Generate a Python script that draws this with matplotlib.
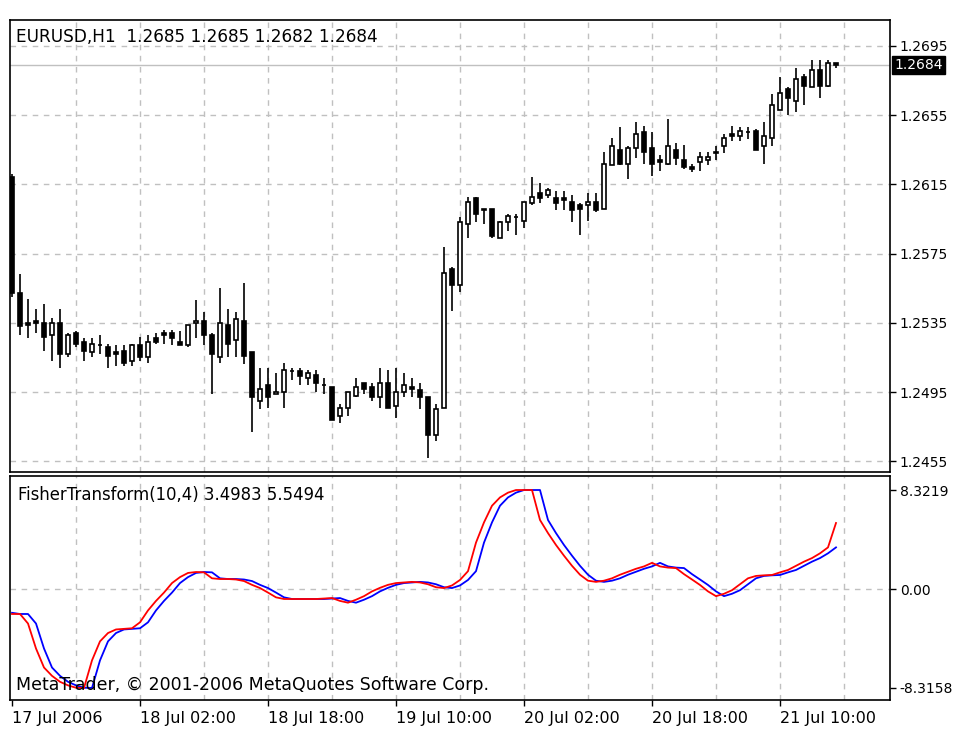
import matplotlib
matplotlib.use("Agg")
import matplotlib.pyplot as plt

# EURUSD H1 bars, 17 Jul 2006 10:00 onwards
opens = [1.2619, 1.2552, 1.2535, 1.2536, 1.2535, 1.2528, 1.2535, 1.2517, 1.2529, 1.2524,
         1.2518, 1.2522, 1.2521, 1.2518, 1.2519, 1.2513, 1.2522, 1.2515, 1.2526, 1.2529,
         1.2529, 1.2524, 1.2522, 1.2535, 1.2536, 1.2528, 1.2515, 1.2534, 1.2525, 1.2536,
         1.2518, 1.2490, 1.2499, 1.2494, 1.2495, 1.2507, 1.2507, 1.2503, 1.2505, 1.2499,
         1.2498, 1.2481, 1.2486, 1.2493, 1.2500, 1.2498, 1.2492, 1.2500, 1.2487, 1.2495,
         1.2498, 1.2496, 1.2492, 1.2470, 1.2486, 1.2566, 1.2557, 1.2592, 1.2607, 1.2601,
         1.2601, 1.2584, 1.2593, 1.2596, 1.2594, 1.2604, 1.2610, 1.2609, 1.2607, 1.2607,
         1.2605, 1.2603, 1.2603, 1.2605, 1.2601, 1.2626, 1.2635, 1.2627, 1.2636, 1.2645,
         1.2636, 1.2629, 1.2627, 1.2635, 1.2629, 1.2625, 1.2628, 1.2629, 1.2634, 1.2637,
         1.2644, 1.2643, 1.2645, 1.2646, 1.2637, 1.2642, 1.2658, 1.2670, 1.2663, 1.2677,
         1.2671, 1.2681, 1.2672, 1.2685]
highs = [1.2621, 1.2563, 1.2549, 1.2543, 1.2546, 1.2538, 1.2543, 1.2529, 1.2530, 1.2526,
         1.2526, 1.2528, 1.2523, 1.2522, 1.2522, 1.2523, 1.2527, 1.2528, 1.2529, 1.2531,
         1.2531, 1.2530, 1.2534, 1.2548, 1.2541, 1.2529, 1.2555, 1.2543, 1.2541, 1.2558,
         1.2518, 1.2509, 1.2509, 1.2506, 1.2512, 1.2509, 1.2509, 1.2508, 1.2508, 1.2503,
         1.2498, 1.2488, 1.2495, 1.2503, 1.2500, 1.2500, 1.2509, 1.2508, 1.2509, 1.2506,
         1.2503, 1.2500, 1.2492, 1.2488, 1.2579, 1.2567, 1.2596, 1.2608, 1.2608, 1.2601,
         1.2601, 1.2594, 1.2598, 1.2598, 1.2605, 1.2619, 1.2616, 1.2613, 1.2611, 1.2611,
         1.2609, 1.2604, 1.2610, 1.2610, 1.2634, 1.2642, 1.2648, 1.2637, 1.2651, 1.2649,
         1.2645, 1.2632, 1.2653, 1.2639, 1.2638, 1.2627, 1.2634, 1.2634, 1.2637, 1.2644,
         1.2649, 1.2648, 1.2648, 1.2647, 1.2651, 1.2667, 1.2677, 1.2671, 1.2682, 1.2679,
         1.2687, 1.2687, 1.2687, 1.2685]
lows = [1.2550, 1.2528, 1.2526, 1.2529, 1.2519, 1.2513, 1.2509, 1.2515, 1.2521, 1.2513,
        1.2515, 1.2517, 1.2509, 1.2510, 1.2510, 1.2510, 1.2513, 1.2512, 1.2523, 1.2523,
        1.2522, 1.2522, 1.2521, 1.2526, 1.2522, 1.2494, 1.2512, 1.2515, 1.2515, 1.2511,
        1.2472, 1.2485, 1.2486, 1.2494, 1.2486, 1.2502, 1.2499, 1.2499, 1.2495, 1.2494,
        1.2479, 1.2477, 1.2481, 1.2492, 1.2494, 1.2490, 1.2486, 1.2486, 1.2480, 1.2492,
        1.2492, 1.2485, 1.2457, 1.2467, 1.2486, 1.2542, 1.2553, 1.2584, 1.2593, 1.2592,
        1.2584, 1.2584, 1.2588, 1.2586, 1.2590, 1.2603, 1.2604, 1.2607, 1.2600, 1.2600,
        1.2593, 1.2586, 1.2594, 1.2599, 1.2601, 1.2626, 1.2626, 1.2618, 1.2630, 1.2627,
        1.2620, 1.2623, 1.2626, 1.2626, 1.2624, 1.2622, 1.2623, 1.2626, 1.2629, 1.2633,
        1.2640, 1.2640, 1.2641, 1.2635, 1.2627, 1.2637, 1.2658, 1.2655, 1.2657, 1.2661,
        1.2671, 1.2665, 1.2671, 1.2682]
closes = [1.2552, 1.2533, 1.2534, 1.2535, 1.2527, 1.2535, 1.2517, 1.2528, 1.2523, 1.2519,
          1.2523, 1.2522, 1.2516, 1.2517, 1.2512, 1.2522, 1.2515, 1.2524, 1.2524, 1.2528,
          1.2526, 1.2522, 1.2534, 1.2536, 1.2528, 1.2517, 1.2535, 1.2523, 1.2537, 1.2516,
          1.2492, 1.2497, 1.2492, 1.2495, 1.2508, 1.2507, 1.2504, 1.2506, 1.2500, 1.2499,
          1.2479, 1.2486, 1.2495, 1.2498, 1.2497, 1.2492, 1.2500, 1.2486, 1.2495, 1.2499,
          1.2497, 1.2492, 1.2470, 1.2485, 1.2564, 1.2557, 1.2593, 1.2605, 1.2598, 1.2600,
          1.2585, 1.2593, 1.2597, 1.2596, 1.2605, 1.2608, 1.2607, 1.2612, 1.2604, 1.2606,
          1.2600, 1.2601, 1.2605, 1.2600, 1.2627, 1.2637, 1.2627, 1.2636, 1.2644, 1.2634,
          1.2627, 1.2628, 1.2637, 1.2630, 1.2625, 1.2624, 1.2631, 1.2631, 1.2633, 1.2642,
          1.2643, 1.2646, 1.2645, 1.2635, 1.2643, 1.2661, 1.2668, 1.2665, 1.2676, 1.2672,
          1.2681, 1.2672, 1.2685, 1.2684]

# FisherTransform(10,4): main line (red) and signal line (blue)
fisher = [-2.1, -2.1, -2.9, -5.0, -6.6, -7.3, -7.8, -8.1, -8.3, -8.3158,
          -6.0, -4.4, -3.7, -3.4, -3.35, -3.3, -2.8, -1.8, -1.0, -0.3,
          0.5, 1.0, 1.35, 1.43, 1.4, 0.9, 0.84, 0.84, 0.8, 0.67,
          0.35, 0.08, -0.3, -0.7, -0.84, -0.84, -0.84, -0.84, -0.84, -0.8,
          -0.76, -1.0, -1.15, -0.9, -0.6, -0.2, 0.1, 0.35, 0.5, 0.55,
          0.6, 0.55, 0.4, 0.15, 0.08, 0.3, 0.76, 1.5, 3.9, 5.6,
          7.0, 7.7, 8.1, 8.3219, 8.3219, 8.3219, 5.8, 4.7, 3.7, 2.8,
          1.95, 1.2, 0.7, 0.6, 0.7, 0.9, 1.2, 1.45, 1.7, 1.9,
          2.2, 1.9, 1.8, 1.76, 1.25, 0.8, 0.34, -0.2, -0.6, -0.4,
          -0.1, 0.4, 0.9, 1.1, 1.15, 1.18, 1.4, 1.6, 1.95, 2.3,
          2.6, 3.0, 3.4983, 5.5494]
signal = [-2.0, -2.1, -2.1, -2.9, -5.0, -6.6, -7.3, -7.8, -8.1, -8.3,
          -8.3158, -6.0, -4.4, -3.7, -3.4, -3.35, -3.3, -2.8, -1.8, -1.0,
          -0.3, 0.5, 1.0, 1.35, 1.43, 1.4, 0.9, 0.84, 0.84, 0.8,
          0.67, 0.35, 0.08, -0.3, -0.7, -0.84, -0.84, -0.84, -0.84, -0.84,
          -0.8, -0.76, -1.0, -1.15, -0.9, -0.6, -0.2, 0.1, 0.35, 0.5,
          0.55, 0.6, 0.55, 0.4, 0.15, 0.08, 0.3, 0.76, 1.5, 3.9,
          5.6, 7.0, 7.7, 8.1, 8.3219, 8.3219, 8.3219, 5.8, 4.7, 3.7,
          2.8, 1.95, 1.2, 0.7, 0.6, 0.7, 0.9, 1.2, 1.45, 1.7,
          1.9, 2.2, 1.9, 1.8, 1.76, 1.25, 0.8, 0.34, -0.2, -0.6,
          -0.4, -0.1, 0.4, 0.9, 1.1, 1.15, 1.18, 1.4, 1.6, 1.95,
          2.3, 2.6, 3.0, 3.4983]

price_ticks = [1.2455, 1.2495, 1.2535, 1.2575, 1.2615, 1.2655, 1.2695]
time_labels = ["17 Jul 2006", "18 Jul 02:00", "18 Jul 18:00", "19 Jul 10:00",
               "20 Jul 02:00", "20 Jul 18:00", "21 Jul 10:00"]
last_price = 1.2684
fisher_max = 8.3219
fisher_min = -8.3158

W, H = 961, 737
fig = plt.figure(figsize=(W / 100, H / 100), dpi=100)
fig.patch.set_facecolor("white")
plt.rcParams["font.family"] = "DejaVu Sans"

grid_kw = dict(color="#c0c0c0", linestyle=(0, (4, 4)), linewidth=1, zorder=0)
n = len(closes)
xs = list(range(n))
x_min, x_max = -0.25, 109.75

ax = fig.add_axes([10 / W, 1 - 472 / H, 880 / W, 452 / H])
ax2 = fig.add_axes([10 / W, 1 - 700 / H, 880 / W, 224 / H])

# ---- price panel ----
for x in range(8, 110, 8):
    ax.axvline(x, **grid_kw)
for p in price_ticks:
    ax.axhline(p, **grid_kw)
ax.axhline(last_price, color="#c0c0c0", linewidth=1, zorder=1)

ax.vlines(xs, lows, highs, color="black", linewidth=1.2, zorder=2)
for i in xs:
    o, c = opens[i], closes[i]
    bottom = min(o, c)
    height = max(abs(c - o), 0.00001)
    face = "black" if c < o else "white"
    ax.bar(i, height, bottom=bottom, width=0.55, facecolor=face,
           edgecolor="black", linewidth=1.2, zorder=3)

ax.set_xlim(x_min, x_max)
ax.set_ylim(1.24488, 1.27100)
ax.set_xticks([])
ax.yaxis.tick_right()
ax.set_yticks(price_ticks)
ax.set_yticklabels([f"{p:.4f}" for p in price_ticks])
ax.tick_params(axis="y", length=4, width=1, pad=3, labelsize=10)
for s in ax.spines.values():
    s.set_linewidth(1.2)

ax.text(6 / 880, 1 - 17 / 452, "EURUSD,H1  1.2685 1.2685 1.2682 1.2684",
        transform=ax.transAxes, fontsize=12.2, va="center", ha="left")
ax.text(1.0 + 4 / 880, last_price, f"{last_price:.4f}",
        transform=ax.get_yaxis_transform(), fontsize=10, color="white",
        va="center", ha="left", zorder=5, clip_on=False,
        bbox=dict(boxstyle="square,pad=0.15", facecolor="black", edgecolor="black"))

# ---- Fisher transform panel ----
for x in range(8, 110, 8):
    ax2.axvline(x, **grid_kw)
ax2.axhline(0, **grid_kw)
ax2.plot(xs, signal, color="#0000ff", linewidth=1.3, zorder=2)
ax2.plot(xs, fisher, color="#ff0000", linewidth=1.3, zorder=3)

ax2.set_xlim(x_min, x_max)
ax2.set_ylim(-9.33, 9.5)
ax2.yaxis.tick_right()
ax2.set_yticks([fisher_min, 0, fisher_max])
ax2.set_yticklabels([f"{fisher_min:.4f}", "0.00", f"{fisher_max:.4f}"])
ax2.tick_params(axis="y", length=4, width=1, pad=3, labelsize=10)
ax2.set_xticks(range(0, n, 16))
ax2.set_xticklabels(time_labels, ha="left")
ax2.tick_params(axis="x", length=4, width=1, pad=4, labelsize=11.5)
for s in ax2.spines.values():
    s.set_linewidth(1.2)

ax2.text(8 / 880, 1 - 19 / 224, "FisherTransform(10,4) 3.4983 5.5494",
         transform=ax2.transAxes, fontsize=11.9, va="center", ha="left")
ax2.text(6 / 880, 15 / 224, "MetaTrader, \u00a9 2001-2006 MetaQuotes Software Corp.",
         transform=ax2.transAxes, fontsize=12.5, va="center", ha="left")

fig.savefig("out.png", dpi=100)
